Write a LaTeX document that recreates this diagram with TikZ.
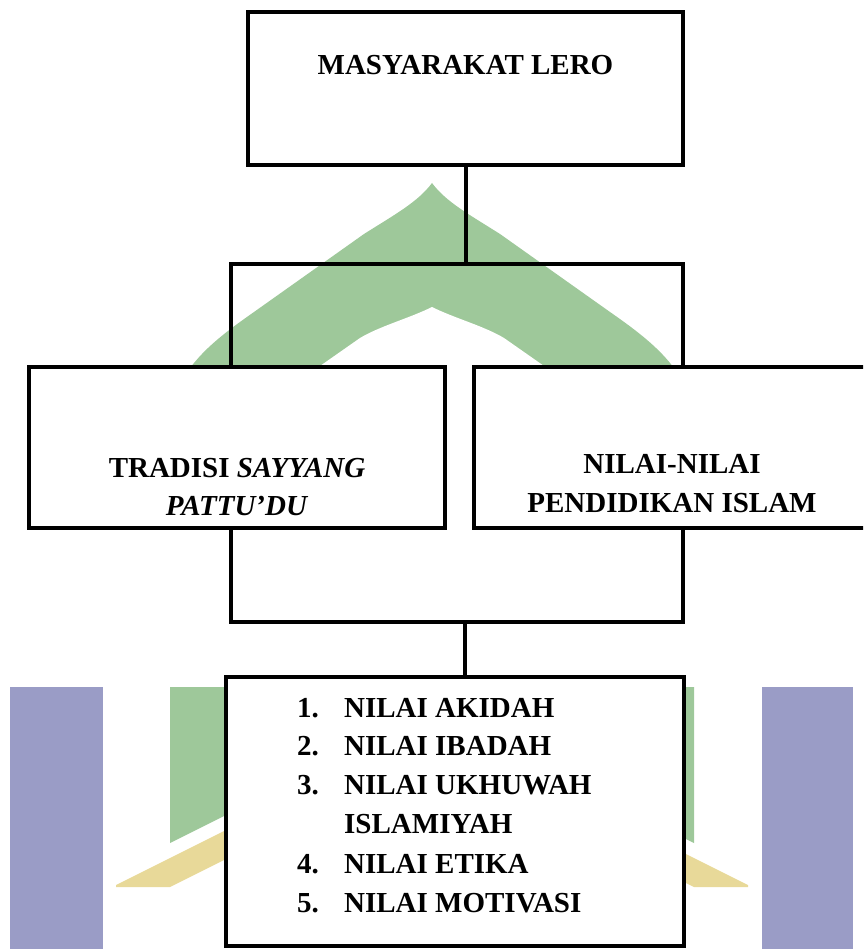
\documentclass[tikz,border=0pt]{standalone}
\usepackage{fontspec}
\setmainfont{Liberation Serif}
\definecolor{wmgreen}{RGB}{158,200,154}
\definecolor{wmyellow}{RGB}{232,217,153}
\definecolor{wmblue}{RGB}{154,156,198}
\begin{document}
\begin{tikzpicture}[x=1pt,y=-1pt,
  box/.style={draw=black, line width=4pt, fill=white, inner sep=0pt},
  conn/.style={draw=black, line width=4pt, line join=miter},
  lbl/.style={font=\fontsize{29}{35}\selectfont\bfseries, inner sep=0pt, anchor=base},
  listitem/.style={font=\fontsize{29}{35}\selectfont\bfseries, inner sep=0pt, anchor=base west}]
\useasboundingbox (0,0) rectangle (863,949);
\clip (0,0) rectangle (863,949);
% watermark
\fill[wmgreen] (432,183) .. controls (446,202) and (470,215) .. (500,234) -- (610,312)
  .. controls (650,340) and (690,370) .. (694,420) -- (694,843) -- (432,712) -- (170,843)
  -- (170,420) .. controls (174,370) and (214,340) .. (254,312) -- (364,234)
  .. controls (394,215) and (418,202) .. (432,183) -- cycle;
\fill[white] (432,307) .. controls (454,318) and (484,326) .. (504,338) -- (564,380)
  -- (564,528) -- (300,528) -- (300,380) -- (360,338)
  .. controls (380,326) and (410,318) .. (432,307) -- cycle;
\fill[white] (0,528) rectangle (863,687);
\fill[wmyellow] (116,885) -- (432,727) -- (748,885) -- (748,887) -- (694,887)
  -- (432,756) -- (170,887) -- (116,887) -- cycle;
\fill[wmblue] (10,687) rectangle (103,949);
\fill[wmblue] (762,687) rectangle (853,949);
% boxes
\node[box, minimum width=435pt, minimum height=153pt] (top) at (465.5,88.5) {};
\node[lbl] (toplbl) at (465.5,75) {MASYARAKAT LERO};
\node[box, minimum width=416pt, minimum height=161pt] (left) at (237,447.5) {};
\node[lbl] (leftl1) at (237,477) {TRADISI \textit{SAYYANG}};
\node[lbl] (leftl2) at (237,515) {\textit{PATTU’DU}};
\node[box, minimum width=396pt, minimum height=161pt] (right) at (672,447.5) {};
\node[lbl] (rightl1) at (672,473) {NILAI-NILAI};
\node[lbl] (rightl2) at (672,512) {PENDIDIKAN ISLAM};
\node[box, minimum width=458pt, minimum height=269pt] (bottom) at (455,811.5) {};
% connectors
\coordinate (j1) at (465.5,264);
\coordinate (j1l) at (231,264);
\coordinate (j1r) at (683,264);
\coordinate (j2) at (465,622);
\coordinate (j2l) at (231,622);
\coordinate (j2r) at (683,622);
\draw[conn] (top.south) -- (j1);
\draw[conn] (left.north -| j1l) -- (j1l) -- (j1r) -- (right.north -| j1r);
\draw[conn] (left.south -| j2l) -- (j2l) -- (j2r) -- (right.south -| j2r);
\draw[conn] (j2) -- (bottom.north -| j2);
% list
\node[listitem] (i1) at (297,717) {\makebox[47pt][l]{1.}NILAI AKIDAH};
\node[listitem] (i2) at (297,755) {\makebox[47pt][l]{2.}NILAI IBADAH};
\node[listitem] (i3) at (297,794) {\makebox[47pt][l]{3.}NILAI UKHUWAH};
\node[listitem] (i4) at (344,833) {ISLAMIYAH};
\node[listitem] (i5) at (297,873) {\makebox[47pt][l]{4.}NILAI ETIKA};
\node[listitem] (i6) at (297,912) {\makebox[47pt][l]{5.}NILAI MOTIVASI};
\end{tikzpicture}
\end{document}
